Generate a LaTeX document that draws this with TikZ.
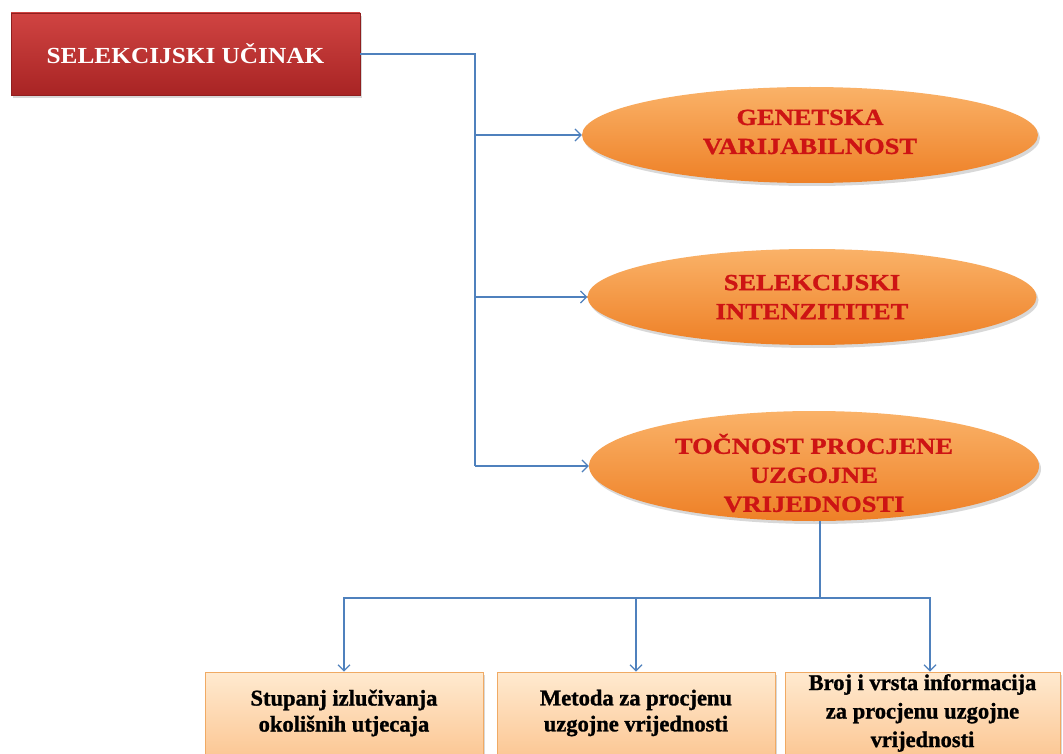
\documentclass[tikz,border=0pt]{standalone}
\usepackage{fontspec}
\setmainfont{Liberation Serif}
\newfontfamily\wideserif[FakeStretch=1.1]{Liberation Serif}
\newfontfamily\ovalserif[FakeStretch=1.15,FakeBold=1.2]{Liberation Serif}
\newfontfamily\heavyserif[FakeBold=1.2]{Liberation Serif}
\usetikzlibrary{shapes.geometric,arrows.meta,shadows}
\definecolor{connblue}{RGB}{79,129,189}
\definecolor{boxredtop}{RGB}{208,68,66}
\definecolor{boxredbot}{RGB}{168,36,36}
\definecolor{ovaltop}{RGB}{250,178,104}
\definecolor{ovalbot}{RGB}{238,128,38}
\definecolor{ovaltext}{RGB}{205,20,20}
\definecolor{leaftop}{RGB}{255,234,208}
\definecolor{leafbot}{RGB}{252,200,150}
\definecolor{leafedge}{RGB}{240,170,100}
\begin{document}
\begin{tikzpicture}[x=1pt,y=-1pt,
  conn/.style={draw=connblue,line width=1.2pt},
  arr/.style={conn,-{Straight Barb[length=6pt,width=12pt]}},
  shad/.style={drop shadow={opacity=0.3,shadow xshift=2pt,shadow yshift=-3pt}},
  titlebox/.style={rectangle,shad,top color=boxredtop,bottom color=boxredbot,
    draw=boxredbot!85!black,line width=0.4pt,minimum width=349pt,minimum height=82pt,
    inner sep=0pt,text=white,font={\wideserif\bfseries\fontsize{23}{28}\selectfont}},
  oval/.style={ellipse,shad,top color=ovaltop,bottom color=ovalbot,inner sep=0pt},
  ovaltxt/.style={text=ovaltext,align=center,inner sep=0pt,
    font={\ovalserif\bfseries\fontsize{23}{29}\selectfont}},
  leaf/.style={rectangle,shad,top color=leaftop,bottom color=leafbot,draw=leafedge,
    line width=0.8pt,minimum width=278pt,minimum height=82pt,inner sep=0pt,align=center,
    font={\heavyserif\bfseries\fontsize{22.5}{26}\selectfont}}]
\useasboundingbox (0,0) rectangle (1063,754);
\fill[white] (0,0) rectangle (1063,754);

\node[titlebox] (sel) at (185.5,54) {SELEKCIJSKI UČINAK};

\node[oval,minimum width=456pt,minimum height=96pt,
  label={[ovaltxt,yshift=3pt]center:{GENETSKA\\VARIJABILNOST}}] (gen) at (810,135) {};
\node[oval,minimum width=449pt,minimum height=96pt,
  label={[ovaltxt]center:{SELEKCIJSKI\\INTENZITITET}}] (int) at (812,297) {};
\node[oval,minimum width=450pt,minimum height=110pt,
  label={[ovaltxt,yshift=-7pt]center:{TOČNOST PROCJENE\\UZGOJNE\\VRIJEDNOSTI}}] (toc) at (814,466) {};

\node[leaf] (l1) at (344,713) {Stupanj izlučivanja\\okolišnih utjecaja};
\node[leaf] (l2) at (636,713) {Metoda za procjenu\\uzgojne vrijednosti};
\node[leaf,minimum width=275pt,font={\heavyserif\bfseries\fontsize{22.5}{28.5}\selectfont}] (l3) at (922.5,713) {Broj i vrsta informacija\\za procjenu uzgojne\\vrijednosti};

\coordinate (trunk) at (475,0);
\draw[conn] (sel.east) -| (trunk |- toc.west);
\draw[arr] (trunk |- gen.west) -- (gen.west);
\draw[arr] (trunk |- int.west) -- (int.west);
\draw[arr] (trunk |- toc.west) -- (toc.west);

\coordinate (hub) at (820,598);
\draw[conn] (toc.south -| hub) -- (hub);
\draw[arr] (hub) -| (l1.north);
\draw[arr] (hub) -| (l2.north);
\draw[arr] (hub) -| ([xshift=7.5pt]l3.north);
\end{tikzpicture}
\end{document}
